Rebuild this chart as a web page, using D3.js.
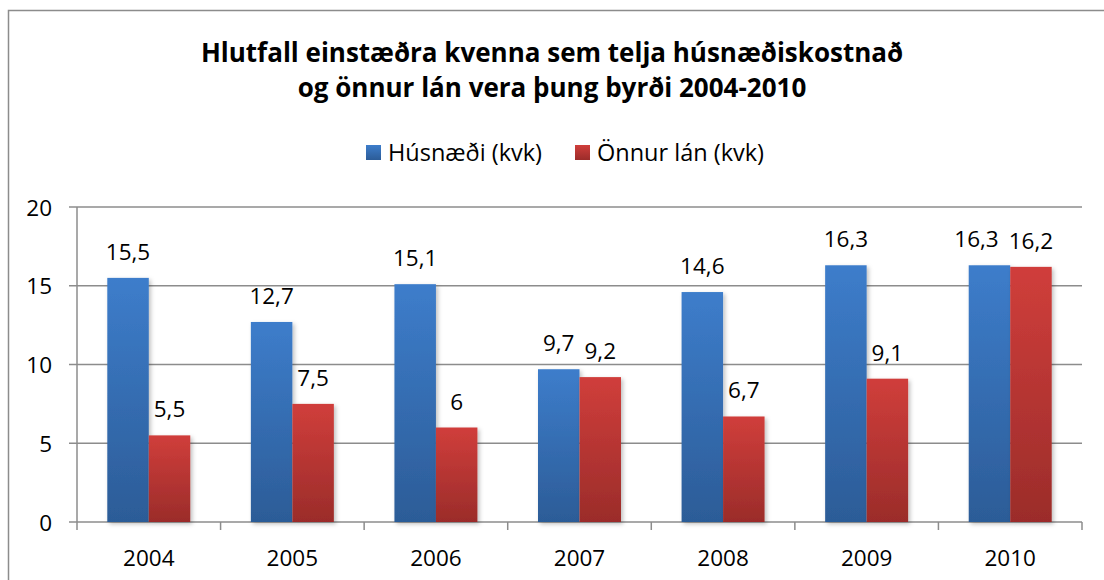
<!DOCTYPE html>
<html>
<head>
<meta charset="utf-8">
<script src="https://cdn.jsdelivr.net/npm/d3@7"></script>
<style>
  body { margin: 0; background: #fff; }
  text { font-family: "Open Sans", Lato, sans-serif; fill: #000; }
</style>
</head>
<body>
<div class="chart"></div>
<script>
var years = ["2004", "2005", "2006", "2007", "2008", "2009", "2010"];
var seriesNames = ["Húsnæði (kvk)", "Önnur lán (kvk)"];
var husnaedi = [15.5, 12.7, 15.1, 9.7, 14.6, 16.3, 16.3];
var onnurLan = [5.5, 7.5, 6, 9.2, 6.7, 9.1, 16.2];
var yTicks = [0, 5, 10, 15, 20];
var titleLines = ["Hlutfall einstæðra kvenna sem telja húsnæðiskostnað",
                  "og önnur lán vera þung byrði 2004-2010"];

var svgWidth = 1104, svgHeight = 580;
var margin = { top: 207, right: 22, bottom: 58, left: 77 };
var width = svgWidth - margin.left - margin.right;
var height = svgHeight - margin.top - margin.bottom;

var svg = d3.select(".chart").append("svg")
  .attr("width", svgWidth)
  .attr("height", svgHeight);

// gradients for the bars
var defs = svg.append("defs");
function grad(id, top, bottom) {
  var g = defs.append("linearGradient").attr("id", id)
    .attr("x1", 0).attr("y1", 0).attr("x2", 0).attr("y2", 1);
  g.append("stop").attr("offset", "0%").attr("stop-color", top);
  g.append("stop").attr("offset", "100%").attr("stop-color", bottom);
}
grad("gBlue", "#3d7dcb", "#2c5c97");
grad("gRed", "#d03e3b", "#9b2c2a");
var colors = ["url(#gBlue)", "url(#gRed)"];

var shadow = defs.append("filter").attr("id", "shadow")
  .attr("x", "-20%").attr("y", "-10%").attr("width", "150%").attr("height", "130%");
shadow.append("feDropShadow").attr("dx", 2).attr("dy", 2)
  .attr("stdDeviation", 2).attr("flood-color", "#000").attr("flood-opacity", 0.25);

// outer frame
svg.append("rect")
  .attr("x", 8.5).attr("y", 10.5)
  .attr("width", 1100).attr("height", 600)
  .attr("fill", "none").attr("stroke", "#8c8c8c").attr("stroke-width", 1.5);

// title
svg.append("text")
  .attr("text-anchor", "middle")
  .attr("font-weight", "bold")
  .attr("font-size", 26)
  .selectAll("tspan")
  .data(titleLines)
  .enter()
  .append("tspan")
    .attr("x", 552)
    .attr("y", (d, i) => 62 + i * 35)
    .text(d => d);

// legend
var legendData = seriesNames.map((n, i) => ({ name: n, color: colors[i] }));
var legendX = [366, 575];
var legend = svg.selectAll(".legend")
  .data(legendData)
  .enter()
  .append("g")
  .attr("transform", (d, i) => `translate(${legendX[i]}, 145)`);
legend.append("rect")
  .attr("width", 15).attr("height", 15)
  .attr("fill", d => d.color);
legend.append("text")
  .attr("x", 22).attr("y", 16)
  .attr("font-size", 23.5)
  .text(d => d.name);

var chartGroup = svg.append("g")
  .attr("transform", `translate(${margin.left}, ${margin.top})`);

var x0 = d3.scaleBand().domain(years).range([0, width]).paddingInner(0).paddingOuter(0);
var x1 = d3.scaleBand().domain([0, 1]).range([0, x0.bandwidth()]).paddingInner(0).paddingOuter(0.73);
var y = d3.scaleLinear().domain([0, 20]).range([height, 0]);

// gridlines
chartGroup.append("g")
  .selectAll("line")
  .data(yTicks)
  .enter()
  .append("line")
    .attr("x1", -8).attr("x2", width)
    .attr("y1", d => y(d)).attr("y2", d => y(d))
    .attr("stroke", "#8c8c8c").attr("stroke-width", 1.5);

// y axis
var leftAxis = d3.axisLeft(y).tickValues(yTicks).tickSize(0).tickPadding(25);
var yAxisG = chartGroup.append("g").call(leftAxis);
yAxisG.select(".domain").remove();
yAxisG.selectAll("text")
  .attr("font-size", 22.5).attr("font-family", "Open Sans")
  .attr("dy", "0.36em");

chartGroup.append("line")
  .attr("x1", 0).attr("x2", 0).attr("y1", 0).attr("y2", height)
  .attr("stroke", "#8c8c8c").attr("stroke-width", 1.5);

// x axis
var bottomAxis = d3.axisBottom(x0).tickSize(0);
var xAxisG = chartGroup.append("g")
  .attr("transform", `translate(0, ${height})`)
  .call(bottomAxis);
xAxisG.select(".domain").remove();
xAxisG.selectAll("text")
  .attr("font-size", 22.5).attr("font-family", "Open Sans")
  .attr("y", 44).attr("dy", 0);

chartGroup.append("g")
  .selectAll("line")
  .data(d3.range(years.length + 1))
  .enter()
  .append("line")
    .attr("x1", d => d * x0.step()).attr("x2", d => d * x0.step())
    .attr("y1", height).attr("y2", height + 8)
    .attr("stroke", "#8c8c8c").attr("stroke-width", 1.5);

// bars
var rows = years.map((yr, i) => ({ year: yr, values: [husnaedi[i], onnurLan[i]] }));
var groups = chartGroup.selectAll(".year")
  .data(rows)
  .enter()
  .append("g")
  .attr("transform", d => `translate(${x0(d.year)}, 0)`);

groups.selectAll("rect")
  .data(d => d.values.map((v, s) => ({ v: v, s: s })))
  .enter()
  .append("rect")
    .attr("x", d => x1(d.s))
    .attr("y", d => y(d.v))
    .attr("width", x1.bandwidth())
    .attr("height", d => height - y(d.v))
    .attr("fill", d => colors[d.s])
    .attr("filter", "url(#shadow)");

// value labels
groups.each(function() {
  var labels = d3.select(this).selectAll("text")
    .data(d => d.values.map((v, s) => ({ v: v, s: s })))
    .enter()
    .append("text")
      .attr("x", d => x1(d.s) + x1.bandwidth() / 2)
      .attr("y", d => y(d.v) - 18)
      .attr("text-anchor", "middle")
      .attr("font-size", 22.5)
      .text(d => String(d.v).replace(".", ","));

  // push the left label aside when the two labels collide
  var nodes = labels.nodes();
  var a = nodes[0], b = nodes[1];
  var wa = a.getComputedTextLength(), wb = b.getComputedTextLength();
  var ya = +a.getAttribute("y"), yb = +b.getAttribute("y");
  if (Math.abs(ya - yb) < 22) {
    var xa = +a.getAttribute("x"), xb = +b.getAttribute("x");
    var overlap = (xa + wa / 2 + 10) - (xb - wb / 2);
    if (overlap > 0) a.setAttribute("x", xa - overlap);
  }
});
</script>
</body>
</html>
